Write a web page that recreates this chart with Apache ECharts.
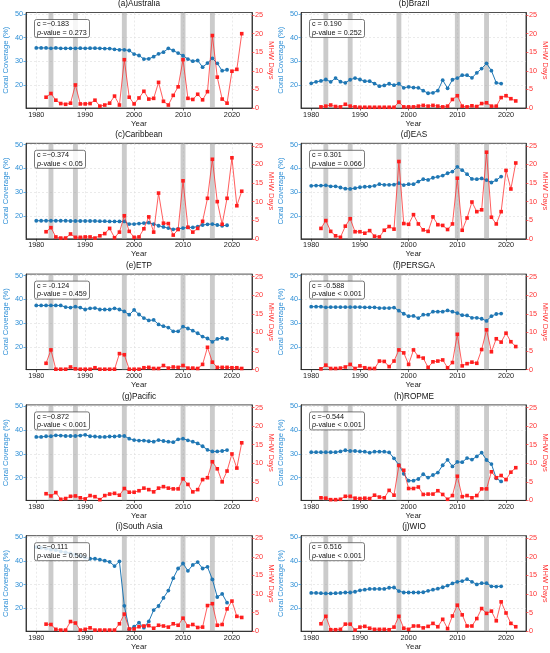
<!DOCTYPE html>
<html><head><meta charset="utf-8">
<script src="https://cdn.jsdelivr.net/npm/echarts@6/dist/echarts.min.js"></script>
<style>html,body{margin:0;padding:0;background:#fff}#c{width:550px;height:653px}</style>
</head><body><div id="c"></div><script>
const coralYears = [1980,1981,1982,1983,1984,1985,1986,1987,1988,1989,1990,1991,1992,1993,1994,1995,1996,1997,1998,1999,2000,2001,2002,2003,2004,2005,2006,2007,2008,2009,2010,2011,2012,2013,2014,2015,2016,2017,2018,2019];
const mhwYears = [1982,1983,1984,1985,1986,1987,1988,1989,1990,1991,1992,1993,1994,1995,1996,1997,1998,1999,2000,2001,2002,2003,2004,2005,2006,2007,2008,2009,2010,2011,2012,2013,2014,2015,2016,2017,2018,2019,2020,2021,2022];
const elNinoYears = [1983,1988,1998,2010,2016];
const xTicks = [1980,1990,2000,2010,2020];
const leftTicks = [20,30,40,50];
const rightTicks = [0,5,10,15,20,25];
const regionTitles = ['(a)Australia','(b)Brazil','(c)Caribbean','(d)EAS','(e)ETP','(f)PERSGA','(g)Pacific','(h)ROPME','(i)South Asia','(j)WIO'];
const corrLabels = ['c =\u22120.183','c = 0.190','c =\u22120.374','c = 0.301','c = -0.124','c = -0.588','c =\u22120.872','c =\u22120.544','c =\u22120.111','c = 0.516'];
const pLabels = ['= 0.273','= 0.252','< 0.05','= 0.066','= 0.459','< 0.001','< 0.001','< 0.001','= 0.509','< 0.001'];

const coralAustralia = [35.7,35.7,35.7,35.5,35.7,35.5,35.5,35.5,35.5,35.6,35.5,35.6,35.6,35.5,35.4,35.4,35.1,34.9,34.9,34.6,33.1,32.5,31.0,31.1,32.0,33.2,33.9,35.5,34.6,33.5,32.4,31.0,30.1,30.4,27.6,29.3,31.3,29.2,26.1,26.5];
const mhwAustralia = [2.9,3.9,2.1,1.2,1.0,1.3,6.2,1.1,1.1,1.2,2.1,0.5,0.8,1.3,3.2,0.8,13.0,2.9,1.1,2.7,4.5,2.4,2.6,6.9,1.8,0.8,3.4,5.7,13.0,2.6,2.3,3.7,2.2,4.4,19.5,8.3,2.4,1.3,9.9,10.4,20.0];
const coralBrazil = [20.8,21.4,21.8,22.4,21.4,23.0,21.5,21.0,22.3,23.0,22.4,21.7,21.7,20.7,19.6,19.9,20.6,20.0,20.6,18.9,19.3,19.0,18.9,17.7,16.6,16.8,17.7,22.1,18.7,22.3,23.0,24.2,24.2,23.1,25.2,27.0,29.2,26.1,21.0,20.7];
const mhwBrazil = [0.3,0.5,0.8,0.4,0.3,1.0,0.5,0.3,0.2,0.2,0.2,0.2,0.2,0.2,0.2,0.2,1.6,0.3,0.3,0.3,0.5,0.7,0.5,0.7,0.5,0.3,0.5,2.3,3.3,0.5,0.3,0.6,0.4,1.2,1.4,0.5,0.5,2.8,3.3,2.5,1.9];
const coralCaribbean = [18.0,18.0,18.0,18.0,18.0,18.0,18.0,17.9,17.9,17.9,17.9,17.9,17.9,17.8,17.8,17.7,17.7,17.7,17.7,16.6,16.6,16.8,17.0,17.2,16.6,15.9,15.4,14.9,14.4,14.6,14.9,15.2,15.2,15.5,16.2,16.5,16.6,16.2,15.9,16.1];
const mhwCaribbean = [1.9,3.0,0.5,0.2,0.2,1.3,0.4,0.4,0.5,0.5,0.2,0.8,1.4,2.8,0.3,1.8,6.2,2.0,0.4,0.5,2.7,5.9,1.8,12.3,4.2,4.1,1.0,2.5,15.6,3.1,1.8,2.8,4.7,10.9,21.4,10.0,3.9,10.9,21.8,8.9,12.8];
const coralEAS = [32.7,32.8,32.8,32.9,32.5,32.5,32.0,31.5,31.4,31.7,32.1,32.3,32.4,32.7,33.4,33.1,33.1,33.2,33.8,33.0,33.4,33.4,34.5,35.5,35.2,36.1,36.5,37.0,38.0,38.7,40.7,39.3,37.6,35.6,35.5,35.8,35.1,34.1,35.1,36.6];
const mhwEAS = [2.8,4.9,2.0,0.8,0.4,3.4,5.4,1.9,1.9,1.5,2.2,0.7,0.5,2.3,3.3,2.6,20.8,4.1,3.9,6.5,4.0,2.4,2.0,5.9,3.8,3.6,2.5,4.0,16.3,2.3,5.6,9.9,7.3,7.8,23.3,5.8,4.0,7.3,18.4,13.4,20.4];
const coralETP = [37.4,37.4,37.4,37.4,37.4,37.4,36.7,36.5,36.9,36.5,35.7,36.2,36.3,35.7,35.7,35.7,36.2,35.7,34.9,33.5,35.5,33.6,32.1,31.1,31.3,29.4,28.7,28.1,26.5,26.5,28.5,27.7,26.8,25.7,24.3,23.5,22.1,23.3,23.7,23.3];
const mhwETP = [1.7,5.3,0.1,0.1,0.1,0.7,0.2,0.1,0.1,0.1,0.5,0.1,0.1,0.1,0.1,4.3,4.0,0.1,0.1,0.1,0.5,0.6,0.3,0.3,1.1,0.4,0.7,0.6,1.1,0.4,0.4,0.3,1.4,6.0,2.0,0.6,0.6,0.6,0.5,0.5,0.3];
const coralPERSGA = [36.9,36.9,36.9,36.6,36.7,36.7,36.7,36.7,36.7,36.7,36.7,36.6,36.6,36.6,36.3,36.3,36.3,36.5,35.2,33.9,32.9,33.0,32.1,33.5,33.5,34.8,34.8,34.8,35.3,34.8,34.2,33.3,33.2,32.2,32.2,31.8,30.9,32.9,33.8,34.0];
const mhwPERSGA = [0.2,1.2,0.3,0.3,0.4,0.7,1.4,0.3,1.0,0.5,0.3,0.3,2.3,2.2,0.8,2.3,5.3,4.5,1.4,5.3,3.5,3.1,0.6,2.1,2.3,2.6,0.5,1.9,9.5,1.0,1.6,2.0,1.7,5.4,10.7,4.8,8.3,7.4,9.8,7.5,6.2];
const coralPacific = [37.1,37.1,37.4,37.4,37.8,37.7,37.5,37.5,37.5,37.7,38.0,37.4,37.3,37.1,37.1,37.3,37.3,37.5,37.5,36.4,35.8,35.6,35.6,35.3,35.1,35.8,35.4,35.1,34.9,36.1,36.4,35.7,35.1,34.4,33.2,31.7,31.0,31.0,31.2,31.6];
const mhwPacific = [1.8,1.2,2.1,0.3,0.5,1.1,1.2,0.7,0.4,1.3,1.0,0.2,1.3,1.7,1.9,1.4,3.2,2.2,2.2,2.6,3.3,2.9,2.3,3.3,3.7,3.3,3.1,3.1,5.8,4.3,2.3,2.9,5.6,6.1,10.4,8.5,5.0,7.9,12.5,8.7,15.5];
const coralROPME = [30.7,30.7,30.7,30.7,30.7,30.7,31.0,31.5,31.2,31.2,31.0,30.9,30.5,30.9,30.9,30.9,30.6,28.1,25.3,21.6,18.7,18.7,19.4,21.4,20.0,21.1,22.1,25.2,27.5,24.7,26.6,26.5,28.2,27.6,28.9,30.5,27.4,25.7,19.7,18.4];
const mhwROPME = [0.7,0.6,0.2,0.2,0.3,1.1,1.1,0.6,0.5,0.6,0.5,1.4,0.9,0.7,2.7,1.4,9.4,8.1,3.2,3.2,3.6,1.6,1.7,1.7,2.6,1.6,0.3,1.3,6.5,1.0,1.3,0.7,1.3,3.1,3.1,7.7,6.1,6.7,5.6,7.6,8.8];
const coralSouthAsia = [45.8,45.5,45.2,44.8,44.5,44.0,43.6,43.2,42.6,42.0,41.4,40.9,40.9,40.5,40.1,39.6,37.8,39.8,21.1,11.2,12.3,14.0,11.9,14.5,19.3,21.0,24.4,27.5,32.7,36.8,38.9,35.8,38.3,39.5,36.8,37.5,32.2,24.8,26.1,22.4];
const mhwSouthAsia = [1.9,1.8,0.5,0.3,0.3,2.6,2.2,0.3,0.5,0.9,0.3,0.3,0.3,0.3,0.3,2.0,4.6,0.6,0.6,1.2,1.4,1.5,0.8,1.6,1.4,1.1,2.0,1.6,3.5,1.4,1.8,1.0,1.1,6.9,7.4,1.6,1.8,6.0,8.1,4.0,3.7];
const coralWIO = [26.5,26.5,26.4,26.3,26.3,26.4,26.5,26.7,26.7,27.0,27.6,27.9,28.2,28.2,28.2,28.2,28.7,28.8,27.3,26.7,26.7,26.7,26.7,26.8,27.4,27.9,28.3,28.9,29.6,30.5,31.2,31.5,32.3,31.2,30.1,30.6,30.6,29.3,29.2,29.3];
const mhwWIO = [2.0,4.0,0.4,0.4,0.5,1.9,1.9,0.3,1.1,1.3,0.8,0.5,0.5,0.5,0.4,1.1,4.0,0.8,0.5,1.4,1.4,0.9,1.3,2.1,1.2,3.2,0.7,4.1,7.0,4.4,1.4,1.4,3.4,6.1,4.8,5.4,2.8,7.9,4.9,2.1,1.2];

const coralAll = [coralAustralia,coralBrazil,coralCaribbean,coralEAS,coralETP,coralPERSGA,coralPacific,coralROPME,coralSouthAsia,coralWIO];
const mhwAll = [mhwAustralia,mhwBrazil,mhwCaribbean,mhwEAS,mhwETP,mhwPERSGA,mhwPacific,mhwROPME,mhwSouthAsia,mhwWIO];

const BLUE = '#1f77b4', BLUE_TXT = '#2e8fd6', RED = '#ff1e1e', RED_TXT = '#ff3434';
const FONT = '"Liberation Sans", Arial, sans-serif';
const colLeft = [26, 301], plotW = 226, plotH = 95.5;
const rowTop = i => 12.5 + i * 130.8;
const plain = v => String(v);

const grid = [], xAxis = [], yAxis = [], series = [], title = [];
for (let i = 0; i < 10; i++) {
  const L = colLeft[i % 2], T = rowTop(Math.floor(i / 2));
  grid.push({left: L, top: T, width: plotW, height: plotH, show: true, borderColor: '#222', borderWidth: 0.8, containLabel: false});
  xAxis.push({
    type: 'value', gridIndex: i, min: 1977.9, max: 2024.1,
    name: 'Year', nameLocation: 'middle', nameGap: 11.5,
    nameTextStyle: {fontSize: 7.8, color: '#222', fontFamily: FONT},
    axisLine: {show: true, onZero: false, lineStyle: {color: '#222', width: 0.8}},
    axisTick: {show: true, length: 2.5, customValues: xTicks, lineStyle: {color: '#222', width: 0.7}},
    axisLabel: {customValues: xTicks, formatter: plain, fontSize: 7.3, color: '#222', margin: 3, fontFamily: FONT},
    splitLine: {show: true, lineStyle: {color: '#dcdcdc', type: [2, 2], width: 0.6}}
  });
  yAxis.push({
    type: 'value', gridIndex: i, position: 'left', min: 10.4, max: 50.6,
    name: 'Coral Coverage (%)', nameLocation: 'middle', nameGap: 16, nameRotate: 90,
    nameTextStyle: {fontSize: 7.6, color: BLUE_TXT, fontFamily: FONT},
    axisLine: {show: true, lineStyle: {color: '#222', width: 0.8}},
    axisTick: {show: true, length: 2.5, customValues: leftTicks, lineStyle: {color: BLUE_TXT, width: 0.7}},
    axisLabel: {customValues: leftTicks, formatter: plain, fontSize: 7.3, color: BLUE_TXT, margin: 3, fontFamily: FONT},
    splitLine: {show: true, lineStyle: {color: '#dcdcdc', type: [2, 2], width: 0.6}}
  });
  yAxis.push({
    type: 'value', gridIndex: i, position: 'right', min: 0, max: 25.7,
    name: 'MHW Days', nameLocation: 'middle', nameGap: 11, nameRotate: -90,
    nameTextStyle: {fontSize: 7.6, color: RED_TXT, fontFamily: FONT},
    axisLine: {show: true, lineStyle: {color: '#222', width: 0.8}},
    axisTick: {show: true, length: 2.5, customValues: rightTicks, lineStyle: {color: RED_TXT, width: 0.7}},
    axisLabel: {customValues: rightTicks, formatter: plain, fontSize: 7.3, color: RED_TXT, margin: 3, fontFamily: FONT},
    splitLine: {show: false}
  });
  series.push({
    type: 'line', xAxisIndex: i, yAxisIndex: 2 * i, data: [], z: 1, silent: true,
    markArea: {silent: true, itemStyle: {color: 'rgba(160,160,160,0.55)'},
      data: elNinoYears.map(y => [{xAxis: y - 0.5}, {xAxis: y + 0.5}])}
  });
  series.push({
    type: 'line', xAxisIndex: i, yAxisIndex: 2 * i, z: 3,
    data: coralYears.map((y, k) => [y, coralAll[i][k]]),
    symbol: 'circle', symbolSize: 3.8, showSymbol: true,
    lineStyle: {color: BLUE, width: 1}, itemStyle: {color: BLUE}
  });
  series.push({
    type: 'line', xAxisIndex: i, yAxisIndex: 2 * i + 1, z: 4,
    data: mhwYears.map((y, k) => [y, mhwAll[i][k]]),
    symbol: 'rect', symbolSize: 3.6, showSymbol: true,
    lineStyle: {color: 'rgba(255,40,40,0.75)', width: 1}, itemStyle: {color: RED}
  });
  title.push({
    text: regionTitles[i], left: L + plotW / 2, top: T - 12.5, textAlign: 'center', padding: 0,
    textStyle: {fontSize: 8.2, fontWeight: 'normal', color: '#111', fontFamily: FONT}
  });
  title.push({
    text: '{a|' + corrLabels[i] + '}\n{b|p}{a|-value ' + pLabels[i] + '}',
    left: L + 8, top: T + 5.5, padding: [2, 3, 1.5, 3],
    backgroundColor: 'rgba(255,255,255,0.82)', borderColor: '#555', borderWidth: 0.8, borderRadius: 2,
    textStyle: {fontFamily: FONT, fontWeight: 'normal', rich: {
      a: {fontSize: 7.2, color: '#111', lineHeight: 8.5, fontWeight: 'normal', fontFamily: FONT},
      b: {fontSize: 7.2, color: '#111', lineHeight: 8.5, fontWeight: 'normal', fontStyle: 'italic', fontFamily: FONT}
    }}
  });
}

const chart = echarts.init(document.getElementById('c'), null, {renderer: 'canvas'});
chart.setOption({
  backgroundColor: '#fff', animation: false,
  textStyle: {fontFamily: FONT},
  title, grid, xAxis, yAxis, series
});
</script></body></html>
